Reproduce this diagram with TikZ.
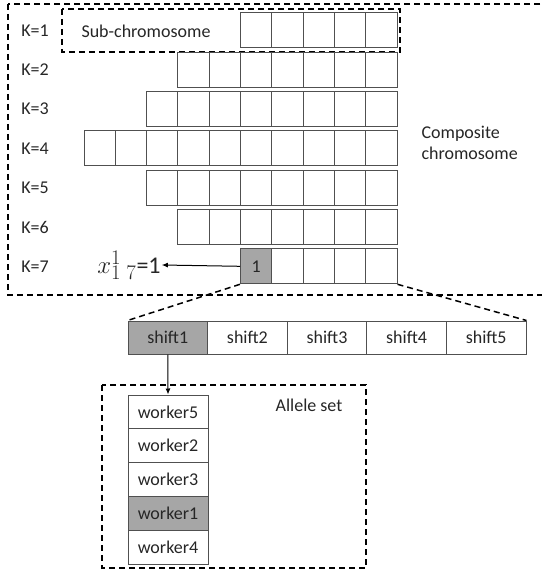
\documentclass[tikz,border=0pt]{standalone}
\usepackage{fontspec}
\setmainfont{Carlito}
\usepackage{tikz}
\usetikzlibrary{arrows.meta}
\definecolor{cellgray}{RGB}{166,166,166}
\definecolor{cellline}{RGB}{80,80,80}

\begin{document}
\begin{tikzpicture}[x=1pt,y=-1pt,
    every node/.style={font=\fontsize{18}{21}\selectfont, text=black!85},
    cell/.style={draw=cellline, line width=1pt, minimum width=31.3pt, minimum height=35pt, inner sep=0pt},
    shiftcell/.style={draw=cellline, line width=1pt, minimum width=79.6pt, minimum height=33pt, inner sep=0pt},
    workercell/.style={draw=cellline, line width=1pt, minimum width=80pt, minimum height=33.8pt, inner sep=0pt},
    dashbox/.style={draw=black, line width=1.5pt, dash pattern=on 6pt off 4pt},
    klabel/.style={inner sep=0pt}]
  \useasboundingbox (0,0) rectangle (541,577);

  % composite chromosome
  \draw[dashbox] (8,4) rectangle (548,295);
  \draw[dashbox] (62,9) rectangle (400,52);
  \node (sub) at (146,31) {Sub-chromosome};
  \node[align=left, anchor=west] (comp) at (418,143) {Composite\\chromosome};

  \foreach \k/\n in {1/5,2/7,3/8,4/10,5/8,6/7} {
    \node[klabel] (k\k) at (35,{30.5+(\k-1)*39.3}) {K=\k};
    \foreach \i in {1,...,\n}
      \node[cell] (c\k-\i) at ({397-31.3*(\n-\i+0.5)},{30.5+(\k-1)*39.3}) {};
  }
  \node[klabel] (k7) at (35,266.3) {K=7};
  \node[cell, fill=cellgray] (c7-1) at ({397-31.3*4.5},266.3) {1};
  \foreach \i in {2,...,5}
    \node[cell] (c7-\i) at ({397-31.3*(5-\i+0.5)},266.3) {};

  \node[font=\fontsize{24}{28}\selectfont, inner sep=1pt] (xval) at (129,265)
    {{\fontsize{29}{30}\selectfont\(x_{1\;7}^{1}\)}=1};
  \draw[line width=1pt, -{Latex[length=6pt,width=5pt]}] (c7-1.west) -- (xval.east);

  % shifts
  \foreach \s in {1,...,5}
    \node[shiftcell] (s\s) at ({128+79.6*(\s-0.5)},337.5) {shift\s};
  \fill[cellgray] (s1.north west) rectangle (s1.south east);
  \node[shiftcell] at (s1) {shift1};

  \draw[dashbox] (c7-1.south west) -- (s1.north west);
  \draw[dashbox] (c7-5.south east) -- (s5.north east);

  % allele set
  \draw[dashbox] (102,385) rectangle (366,568);
  \node (allele) at (309,405) {Allele set};
  \foreach \w/\lab [count=\j] in {5/worker5,2/worker2,3/worker3,1/worker1,4/worker4}
    \node[workercell] (w\w) at (168,{395+33.8*(\j-0.5)}) {\lab};
  \fill[cellgray] (w1.north west) rectangle (w1.south east);
  \node[workercell] at (w1) {worker1};

  \draw[line width=1pt, -{Latex[length=6pt,width=5pt]}] (s1.south) -- (w5.north);
\end{tikzpicture}
\end{document}
